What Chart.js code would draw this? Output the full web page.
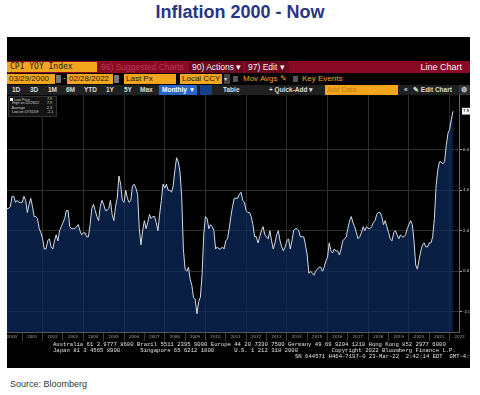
<!DOCTYPE html>
<html>
<head>
<meta charset="utf-8">
<script src="https://cdn.jsdelivr.net/npm/chart.js@4.4.1/dist/chart.umd.min.js"></script>
<style>
  body { margin: 0; width: 480px; height: 395px; background: #fff; position: relative; overflow: hidden; font-family: "Liberation Sans", Arial, sans-serif; }
  #title { position: absolute; top: 2px; left: 0; width: 480px; text-align: center; font-weight: bold; font-size: 18px; color: #283583; }
  #source { position: absolute; left: 10px; top: 379px; font-size: 9px; color: #333; }
  #panel { position: absolute; left: 7px; top: 37px; width: 463px; height: 331px; background: #000; overflow: hidden; }
  .a { position: absolute; white-space: pre; line-height: 1; }
  .bar1 { position: absolute; left: 0; top: 24px; width: 463px; height: 12px; background: #8a0a26; }
  .bar3 { position: absolute; left: 0; top: 48px; width: 463px; height: 10px; background: #202020; }
  .ob { position: absolute; background: #f3a51e; color: #1a1a1a; font-size: 8px; height: 10px; line-height: 10px; padding-left: 2px; box-sizing: border-box; white-space: pre; }
  .t1 { font-size: 8.5px; color: #f2f2f2; top: 26px; }
  .t3 { font-size: 6.5px; color: #dcdcdc; top: 50px; font-weight: bold; }
  .foot { position: absolute; font-family: "Liberation Mono", "DejaVu Sans Mono", monospace; font-size: 5.6px; color: #e0e0e0; white-space: pre; line-height: 1; }
  #legendBox { position: absolute; left: 1px; top: 59px; width: 47px; height: 19px; background: #141414; border: 1px solid #333; }
  .lg { position: absolute; font-size: 3.6px; color: #cfcfcf; white-space: pre; line-height: 1; }
  canvas { position: absolute; left: 0; top: 58px; }
</style>
</head>
<body>
<div id="title">Inflation 2000 - Now</div>

<div id="panel">
  <div class="bar1"></div>
  <div class="ob" style="left:0;top:25px;width:90px;padding-left:3px;font-family:'DejaVu Sans Mono',monospace;font-size:8px;">CPI YOY Index</div>
  <div class="a t1" style="left:94px;color:#b8384f;">96) Suggested Charts</div>
  <div class="a" style="left:182px;top:24px;width:54px;height:12px;background:#6c0820;"></div>
  <div class="a t1" style="left:185px;">90) Actions ▾</div>
  <div class="a" style="left:238px;top:24px;width:44px;height:12px;background:#6c0820;"></div>
  <div class="a t1" style="left:241px;">97) Edit ▾</div>
  <div class="a t1" style="right:8px;font-size:9px;">Line Chart</div>

  <div class="ob" style="left:0;top:37px;width:48px;">03/29/2000</div>
  <div class="a" style="left:49px;top:38px;width:5px;height:8px;background:#777;"></div>
  <div class="a" style="left:56px;top:37px;font-size:8px;color:#ddd;">-</div>
  <div class="ob" style="left:60px;top:37px;width:46px;">02/28/2022</div>
  <div class="a" style="left:107px;top:38px;width:5px;height:8px;background:#777;"></div>
  <div class="ob" style="left:117px;top:37px;width:52px;">Last Px</div>
  <div class="ob" style="left:173px;top:37px;width:42px;">Local CCY</div>
  <div class="a" style="left:217px;top:37px;width:6px;height:10px;background:#444;color:#ddd;font-size:6px;line-height:10px;">▾</div>
  <div class="a" style="left:226px;top:39px;width:5px;height:6px;background:#555;"></div>
  <div class="a" style="left:236px;top:38px;font-size:8px;color:#f3a51e;">Mov Avgs ✎</div>
  <div class="a" style="left:286px;top:39px;width:5px;height:6px;background:#555;"></div>
  <div class="a" style="left:295px;top:38px;font-size:8px;color:#f3a51e;">Key Events</div>

  <div class="bar3"></div>
  <div class="a t3" style="left:5px;">1D</div>
  <div class="a t3" style="left:23px;">3D</div>
  <div class="a t3" style="left:41px;">1M</div>
  <div class="a t3" style="left:59px;">6M</div>
  <div class="a t3" style="left:77px;">YTD</div>
  <div class="a t3" style="left:99px;">1Y</div>
  <div class="a t3" style="left:117px;">5Y</div>
  <div class="a t3" style="left:133px;">Max</div>
  <div class="a" style="left:152px;top:48px;width:38px;height:10px;background:#2a64c8;"></div>
  <div class="a t3" style="left:155px;color:#fff;">Monthly ▼</div>
  <div class="a" style="left:193px;top:48px;width:12px;height:10px;background:#173f86;"></div>
  <div class="a t3" style="left:216px;">Table</div>
  <div class="a t3" style="left:262px;">+ Quick-Add ▾</div>
  <div class="ob" style="left:318px;top:48px;width:73px;height:10px;color:#c17d10;font-size:7px;line-height:10px;">Add Data</div>
  <div class="a t3" style="left:397px;">«</div>
  <div class="a t3" style="left:406px;">✎ Edit Chart</div>
  <div class="a" style="left:452px;top:48px;width:11px;height:10px;background:#333;"></div>
  <div class="a t3" style="left:454px;">⚙</div>

  <canvas id="chartCanvas" width="463" height="247"></canvas>

  <div id="legendBox"></div>
  <div class="lg" style="left:3px;top:60.5px;"><span style="display:inline-block;width:3px;height:3px;background:#eee;"></span> Last Price</div>
  <div class="lg" style="left:3px;top:65px;">  High on 02/28/22</div>
  <div class="lg" style="left:3px;top:69.5px;">  Average</div>
  <div class="lg" style="left:3px;top:74px;">  Low on 07/31/09</div>
  <div class="lg" id="lv0" style="left:40px;top:60.5px;"></div>
  <div class="lg" id="lv1" style="left:40px;top:65px;"></div>
  <div class="lg" id="lv2" style="left:40px;top:69.5px;"></div>
  <div class="lg" id="lv3" style="left:40px;top:74px;"></div>

  <div class="foot" style="left:46px;top:305px;">Australia 61 2 9777 8600 Brazil 5511 2395 9000 Europe 44 20 7330 7500 Germany 49 69 9204 1210 Hong Kong 852 2977 6000</div>
  <div class="foot" style="left:46px;top:310.5px;">Japan 81 3 4565 8900      Singapore 65 6212 1000      U.S. 1 212 318 2000          Copyright 2022 Bloomberg Finance L.P.</div>
  <div class="foot" style="left:288px;top:316.5px;">SN 644571 H464-7197-0 23-Mar-22  2:42:14 EDT  GMT-4:00</div>
</div>

<div id="source">Source: Bloomberg</div>

<script>
// monthly CPI YoY %, first point Mar 2000, last point Feb 2022
const startYear = 2000;
const startMonth = 3;
const cpiYoY = [
  3.1, 3.1, 3.2, 3.7, 3.7, 3.4, 3.5, 3.4, 3.4, 3.4,
  3.7, 3.5, 2.9, 3.3, 3.6, 3.2, 2.7, 2.7, 2.6, 2.1, 1.9, 1.6,
  1.1, 1.1, 1.5, 1.6, 1.2, 1.1, 1.5, 1.8, 1.5, 2.0, 2.2, 2.4,
  2.6, 3.0, 3.0, 2.2, 2.1, 2.1, 2.1, 2.2, 2.3, 2.0, 1.8, 1.9,
  1.9, 1.7, 1.7, 2.3, 3.1, 3.3, 3.0, 2.7, 2.5, 3.2, 3.5, 3.3,
  3.0, 3.0, 3.1, 3.5, 2.8, 2.5, 3.2, 3.6, 4.7, 4.3, 3.5, 3.4,
  4.0, 3.6, 3.4, 3.5, 4.2, 4.3, 4.1, 3.8, 2.1, 1.3, 2.0, 2.5,
  2.1, 2.4, 2.8, 2.6, 2.7, 2.7, 2.4, 2.0, 2.8, 3.5, 4.3, 4.1,
  4.3, 4.0, 4.0, 3.9, 4.2, 5.0, 5.6, 5.4, 4.9, 3.7, 1.1, 0.1,
  0.0, 0.2, -0.4, -0.7, -1.3, -1.4, -2.1, -1.5, -1.3, -0.2, 1.8, 2.7,
  2.6, 2.1, 2.3, 2.2, 2.0, 1.1, 1.2, 1.1, 1.1, 1.2, 1.1, 1.5,
  1.6, 2.1, 2.7, 3.2, 3.6, 3.6, 3.6, 3.8, 3.9, 3.5, 3.4, 3.0,
  2.9, 2.9, 2.7, 2.3, 1.7, 1.7, 1.4, 1.7, 2.0, 2.2, 1.8, 1.7,
  1.6, 2.0, 1.5, 1.1, 1.4, 1.8, 2.0, 1.5, 1.2, 1.0, 1.2, 1.5,
  1.6, 1.1, 1.5, 2.0, 2.1, 2.1, 2.0, 1.7, 1.7, 1.7, 1.3, 0.8,
  -0.1, 0.0, -0.1, -0.2, 0.0, 0.1, 0.2, 0.2, 0.0, 0.2, 0.5, 0.7,
  1.4, 1.0, 0.9, 1.1, 1.0, 1.0, 0.8, 1.1, 1.5, 1.6, 1.7, 2.1,
  2.5, 2.7, 2.4, 2.2, 1.9, 1.6, 1.7, 1.9, 2.2, 2.0, 2.2, 2.1,
  2.1, 2.2, 2.4, 2.5, 2.8, 2.9, 2.9, 2.7, 2.3, 2.5, 2.2, 1.9,
  1.6, 1.5, 1.9, 2.0, 1.8, 1.6, 1.8, 1.7, 1.7, 1.8, 2.1, 2.3,
  2.5, 2.3, 1.5, 0.3, 0.1, 0.6, 1.0, 1.3, 1.4, 1.2, 1.2, 1.4,
  1.4, 1.7, 2.6, 4.2, 5.0, 5.4, 5.4, 5.3, 5.4, 6.2, 6.8, 7.0,
  7.5, 7.9
];

const years = [2000, 2001, 2002, 2003, 2004, 2005, 2006, 2007, 2008, 2009, 2010,
  2011, 2012, 2013, 2014, 2015, 2016, 2017, 2018, 2019, 2020, 2021, 2022];
const gridYears = [2002, 2004, 2006, 2008, 2010, 2012, 2014, 2016, 2018, 2020, 2022];
const yTicks = [-2, 0, 2, 4, 6];
const lastValue = 7.9;

const legendValues = ['7.9', '7.9', '2.3', '-2.1'];
legendValues.forEach((v, i) => { document.getElementById('lv' + i).textContent = v; });

const xMin = 2000.25, xMax = 2022.46;

// month-end position on a year axis
const points = cpiYoY.map((v, i) => ({ x: startYear + (startMonth + i) / 12, y: v }));

const isLast = c => c.tick && c.tick.value === lastValue;

const ctx = document.getElementById('chartCanvas').getContext('2d');
new Chart(ctx, {
  type: 'line',
  data: {
    datasets: [{
      data: points,
      borderColor: '#d4dae6',
      borderWidth: 1,
      backgroundColor: 'rgba(12, 44, 96, 0.7)',
      fill: 'start',
      pointRadius: 0,
      tension: 0
    }]
  },
  options: {
    responsive: false,
    animation: false,
    layout: { padding: 0 },
    plugins: { legend: { display: false }, tooltip: { enabled: false } },
    scales: {
      x: {
        type: 'linear', min: xMin, max: xMax, position: 'bottom',
        afterBuildTicks: s => { s.ticks = years.map(y => ({ value: y })); },
        afterFit: s => { s.height = 10; s.paddingLeft = 0; s.paddingRight = 0; },
        ticks: {
          color: '#a0a0a0', font: { size: 4, family: 'DejaVu Sans' },
          maxRotation: 0, autoSkip: false, labelOffset: 10, padding: -6,
          callback: v => String(v)
        },
        grid: { drawOnChartArea: false, color: '#3a3a3a', tickLength: 9 },
        border: { color: '#555' }
      },
      xg: {
        type: 'linear', min: xMin, max: xMax, position: 'top',
        afterBuildTicks: s => { s.ticks = gridYears.map(y => ({ value: y })); },
        afterFit: s => { s.height = 0; s.paddingLeft = 0; s.paddingRight = 0; },
        ticks: { display: false },
        grid: { color: '#2e2e2e', drawTicks: false },
        border: { display: false }
      },
      y: {
        position: 'right', min: -3, max: 8.7,
        afterBuildTicks: s => { s.ticks = yTicks.concat([lastValue]).map(v => ({ value: v })); },
        afterFit: s => { s.width = 11; s.paddingTop = 0; s.paddingBottom = 0; },
        ticks: {
          color: c => isLast(c) ? '#000' : '#d0d0d0',
          font: { size: 4, family: 'DejaVu Sans' },
          padding: 1,
          callback: v => v.toFixed(1),
          showLabelBackdrop: c => isLast(c),
          backdropColor: '#f4f4f4',
          backdropPadding: 1
        },
        grid: {
          color: c => isLast(c) ? 'rgba(0,0,0,0)' : '#2e2e2e',
          tickColor: c => isLast(c) ? 'rgba(0,0,0,0)' : '#aaa',
          tickLength: 3
        },
        border: { color: '#666' }
      }
    }
  }
});
</script>
</body>
</html>
